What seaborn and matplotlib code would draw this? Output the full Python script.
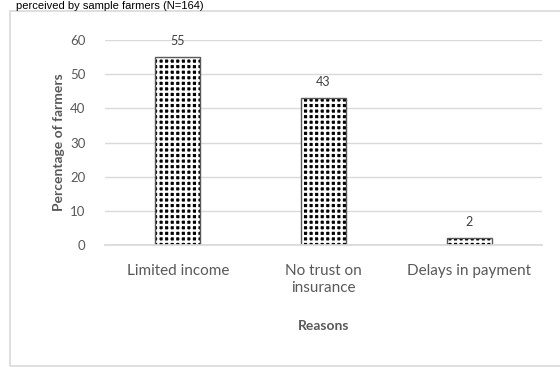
import matplotlib
matplotlib.use("Agg")
import matplotlib.pyplot as plt
import seaborn as sns
import pandas as pd
from matplotlib.patches import Rectangle

categories = ["Limited income", "No trust on\ninsurance", "Delays in payment"]
values = [55, 43, 2]
yticks = [0, 10, 20, 30, 40, 50, 60]

sns.set_theme(style="white")
plt.rcParams['font.family'] = ['Lato', 'DejaVu Sans']
plt.rcParams['hatch.linewidth'] = 1.7

W, H = 560, 367
fig = plt.figure(figsize=(W / 100, H / 100), dpi=100)
ax = fig.add_axes([105 / W, 1 - 245 / H, (542 - 105) / W, (245 - 40) / H])

df = pd.DataFrame({"Reason": categories, "Pct": values})
sns.barplot(data=df, x="Reason", y="Pct", ax=ax, width=0.31, color="black",
            edgecolor="#595959", linewidth=1.0, hatch="+++", saturation=1)
for p in ax.patches:
    p.set_facecolor("black")
    p._hatch_color = (1, 1, 1, 1)

ax.set_ylim(0, 60)
ax.set_xlim(-0.5, 2.5)
ax.set_yticks(yticks)
ax.yaxis.grid(True, color="#d9d9d9", linewidth=1.0)
ax.set_axisbelow(True)
for s in ["top", "right", "left"]:
    ax.spines[s].set_visible(False)
ax.spines["bottom"].set_color("#d9d9d9")
ax.tick_params(axis="y", colors="#595959", labelsize=9.5, length=0, pad=14)
ax.tick_params(axis="x", colors="#595959", labelsize=11, length=0, pad=14)

for i, v in enumerate(values):
    ax.text(i, v + 3.0, str(v), ha="center", va="bottom", fontsize=9, color="#404040")

ax.set_xlabel("Reasons", fontsize=10, fontweight="bold", color="#595959", labelpad=18)
ax.set_ylabel("Percentage of farmers", fontsize=10, fontweight="bold", color="#595959", labelpad=4)

# outer chart border
fig.patches.append(Rectangle((10 / W, 1 - 366 / H), (W - 8) / W, (366 - 11) / H,
                             transform=fig.transFigure, fill=False,
                             edgecolor="#d9d9d9", linewidth=1.2))

fig.text(16 / W, 1 - 1 / H, "perceived by sample farmers (N=164)",
         fontsize=8, color="black", va="top", ha="left",
         family=["Liberation Sans", "DejaVu Sans"])

fig.savefig("out.png", dpi=100)
